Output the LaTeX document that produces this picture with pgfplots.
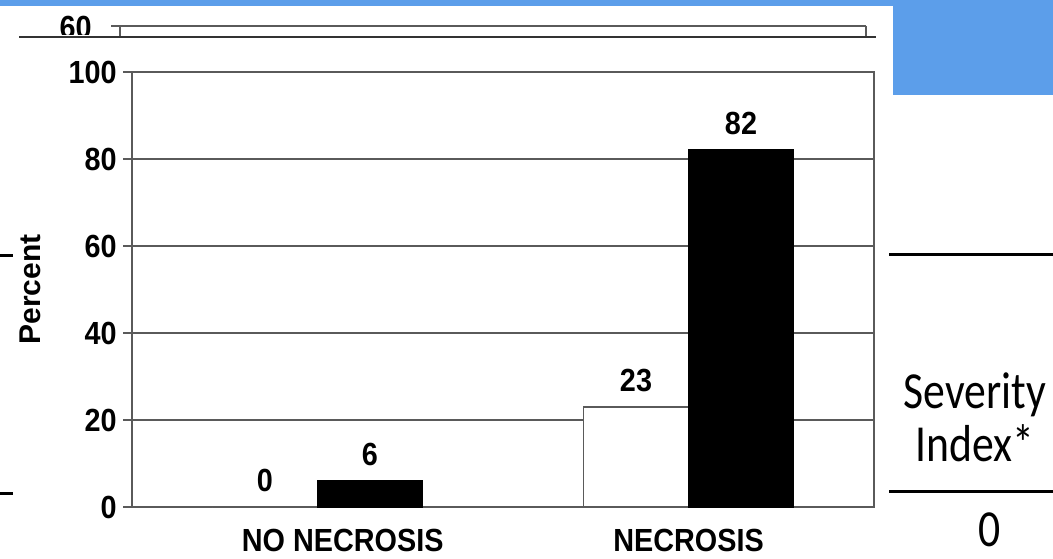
\documentclass[border=0pt]{standalone}
\usepackage{fontspec}
\setmainfont{Liberation Sans}
\newfontfamily\calfont{Carlito}
\usepackage{pgfplots}
\pgfplotsset{compat=1.18}
\definecolor{bluebg}{RGB}{92,158,234}
\definecolor{gridc}{RGB}{90,90,90}
\begin{document}
\begin{tikzpicture}
\begin{scope}[x=0.5pt,y=-0.5pt]
\path[use as bounding box, fill=white] (0,0) rectangle (1053,554);
\begin{scope}
\clip (0,6) rectangle (893,35);
\node[font=\bfseries\fontsize{16}{18}\selectfont, xscale=0.9, anchor=east, inner sep=0pt] at (92,27) {60};
\end{scope}
\fill[bluebg] (0,0) rectangle (1053,6);
\fill[bluebg] (893,0) rectangle (1053,95);
\draw[gridc, line width=1pt] (111,26) -- (866,26);
\draw[gridc, line width=1pt] (120,26) -- (120,36);
\draw[gridc, line width=1pt] (866,26) -- (866,36);
\draw[black!80, line width=1.2pt] (19,37) -- (876,37);
\draw[black, line width=1.5pt] (889,254) -- (1053,254);
\draw[black, line width=1.5pt] (889,491) -- (1053,491);
\draw[black, line width=1.5pt] (0,255) -- (13,255);
\draw[black, line width=1.5pt] (0,493) -- (13,493);
\node[font=\calfont\fontsize{26}{26.5}\selectfont, align=center, xscale=0.84] at (975,417) {Severity\\Index*};
\node[font=\calfont\fontsize{26}{26.5}\selectfont, xscale=0.84] at (990,530) {0};
\end{scope}
\begin{axis}[
  at={(66pt,-253.5pt)}, anchor=south west,
  scale only axis, width=371pt, height=217.5pt,
  ybar=0pt, bar width=52.5pt,
  ymin=0, ymax=100, ytick={0,20,...,100},
  xmin=-0.5, xmax=1.5, xtick={0,1},
  xticklabels={\hspace*{28pt}NO NECROSIS, NECROSIS},
  axis line style={gridc, line width=1pt},
  ymajorgrids, grid style={gridc, line width=1pt},
  ytick style={gridc, line width=1pt},
  x tick style={draw=none},
  ytick pos=left, tick align=outside, major tick length=4.5pt,
  ticklabel style={font=\bfseries\fontsize{16}{18}\selectfont, xscale=0.9},
  x tick label style={yshift=-3pt},
  /pgf/number format/assume math mode=true,
  ylabel={Percent},
  every axis y label/.style={at={(axis description cs:-0.1375,0.5)}, rotate=90, anchor=center, font=\bfseries\fontsize{15}{17}\selectfont},
  nodes near coords,
  every node near coord/.append style={font=\bfseries\fontsize{16}{18}\selectfont, xscale=0.9, black, yshift=4pt},
]
\addplot[fill=white, draw=gridc, line width=0.9pt] coordinates {(0,0) (1,23)};
\addplot[fill=black, draw=black, line width=0.9pt] coordinates {(0,6) (1,82)};
\end{axis}
\end{tikzpicture}
\end{document}
